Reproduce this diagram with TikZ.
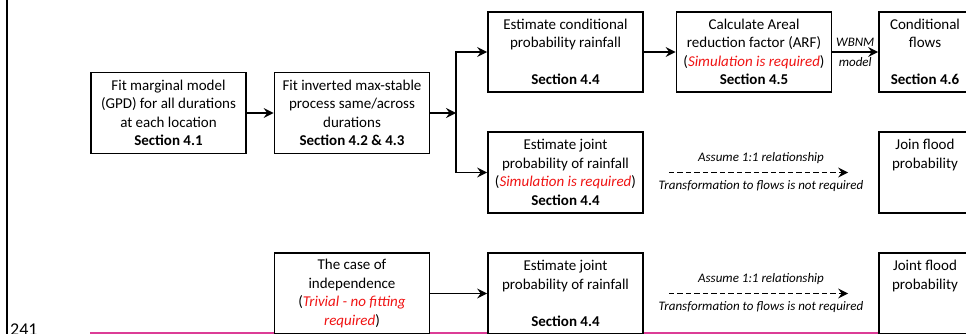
\documentclass[tikz,border=0pt]{standalone}
\usepackage{fontspec}
\setmainfont{Carlito}
\usetikzlibrary{arrows.meta}
\definecolor{linemag}{RGB}{220,60,150}
\definecolor{redtxt}{RGB}{240,20,20}
\newcommand{\redit}[1]{\textcolor{redtxt}{\textit{#1}}}
\tikzset{
  box/.style={draw=black, line width=1.7pt, fill=white, inner sep=0pt, align=center,
    minimum width=155pt, minimum height=81pt, font=\fontsize{15}{18.5}\selectfont},
  arr/.style={line width=1.9pt, -{Stealth[length=10pt,width=10pt,inset=3.5pt]}},
  dasharr/.style={arr, dash pattern=on 5.5pt off 3pt},
  lbl/.style={font=\fontsize{13}{15}\selectfont\itshape, inner sep=0pt}
}
\begin{document}
\begin{tikzpicture}[x=1pt,y=-1pt]
\useasboundingbox (0,0) rectangle (966,334);
\clip (0,0) rectangle (966,334);
% page rule line and line number
\draw[line width=2.2pt] (7,-2) -- (7,340);
\draw[linemag, line width=2pt] (90,332.5) -- (970,332.5);
\node[anchor=base west, inner sep=0pt, font=\fontsize{18}{20}\selectfont] (num) at (10,335.5) {241};
% boxes
\node[box] (A) at (168.5,113) {Fit marginal model\\(GPD) for all durations\\at each location\\\textbf{Section 4.1}};
\node[box] (B) at (352,113) {Fit inverted max-stable\\process same/across\\durations\\\textbf{Section 4.2 \& 4.3}};
\node[box, minimum height=80pt] (C) at (565.5,52) {Estimate conditional\\probability rainfall\\[18.5pt]\textbf{Section 4.4}};
\node[box, minimum height=80pt] (E) at (754,52) {Calculate Areal\\reduction factor (ARF)\\(\redit{Simulation is required})\\\textbf{Section 4.5}};
\node[box, minimum height=80pt, minimum width=92pt] (F) at (925,52) {Conditional\\flows\\[18.5pt]\textbf{Section 4.6}};
\node[box] (D) at (565.5,172.5) {Estimate joint\\probability of rainfall\\(\redit{Simulation is required})\\\textbf{Section 4.4}};
\node[box, minimum width=92pt] (G) at (925,172.5) {Join flood\\probability\\[18.5pt]\mbox{}};
\node[box] (H) at (352,293.5) {The case of\\independence\\(\redit{Trivial - no fitting}\\\redit{required})};
\node[box] (I) at (565.5,293.5) {Estimate joint\\probability of rainfall\\[18.5pt]\textbf{Section 4.4}};
\node[box, minimum width=92pt] (J) at (925,293.5) {Joint flood\\probability\\[18.5pt]\mbox{}};
% connectors
\coordinate (split) at (456,113);
\draw[arr] (A.east) -- (B.west);
\draw[arr] (B.east) -- (split);
\draw[arr] (split) |- (C.west);
\draw[arr] (split) |- (D.west);
\draw[arr] (C.east) -- (E.west);
\draw[arr] (E.east) -- node[lbl, above=5pt] (wb) {WBNM} node[lbl, below=5pt] (md) {model} (F.west);
\draw[dasharr, shorten <=25pt, shorten >=30pt] (D.east) -- node[lbl, above=8pt] (d1) {Assume 1:1 relationship} node[lbl, below=7pt] (d2) {Transformation to flows is not required} (G.west);
\draw[arr] (H.east) -- (I.west);
\draw[dasharr, shorten <=25pt, shorten >=30pt] (I.east) -- node[lbl, above=8pt] (i1) {Assume 1:1 relationship} node[lbl, below=7pt] (i2) {Transformation to flows is not required} (J.west);
\end{tikzpicture}
\end{document}
